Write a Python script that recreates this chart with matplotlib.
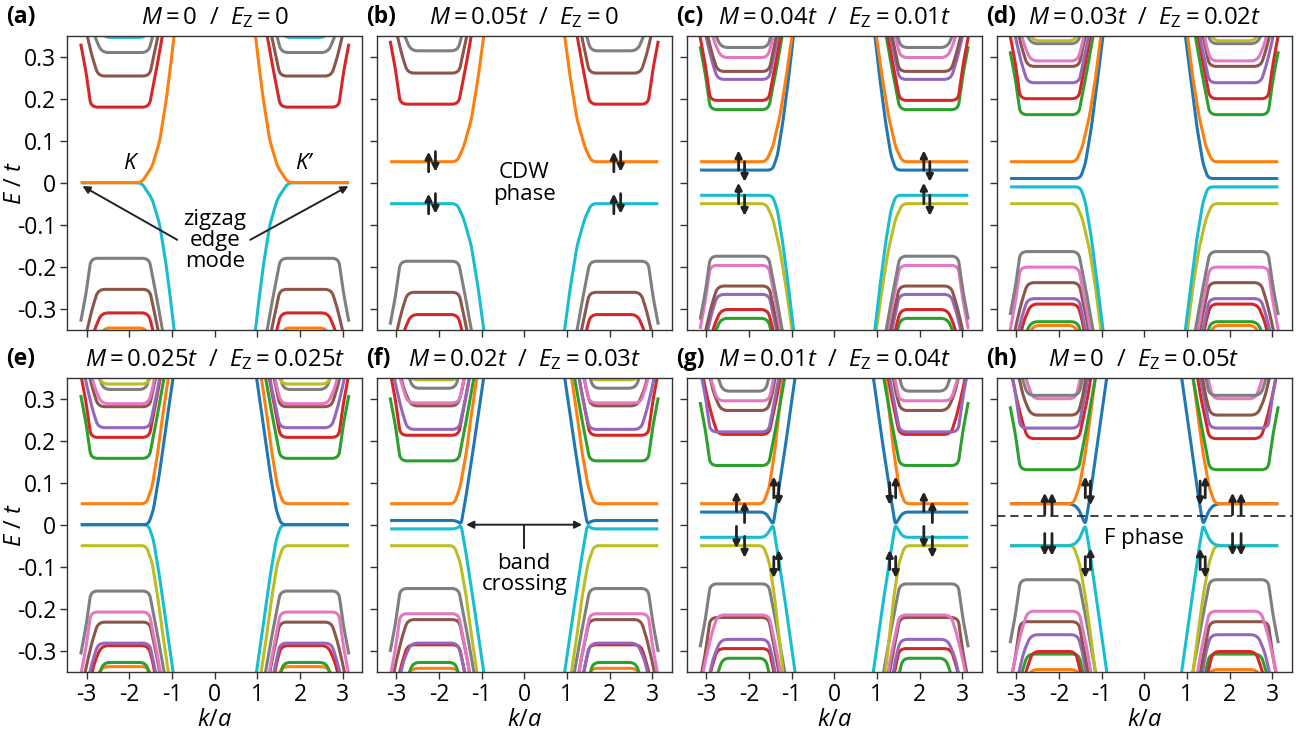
import numpy as np
import matplotlib
matplotlib.use('Agg')
import matplotlib.pyplot as plt
from matplotlib.path import Path
from matplotlib.patches import PathPatch

plt.rcParams['font.family'] = ['Open Sans', 'DejaVu Sans']
plt.rcParams['mathtext.fontset'] = 'custom'
plt.rcParams['mathtext.rm'] = 'Open Sans'
plt.rcParams['mathtext.it'] = 'Open Sans:italic'
plt.rcParams['mathtext.bf'] = 'Open Sans:bold'
plt.rcParams['axes.unicode_minus'] = False

TAB = {'blue': '#1f77b4', 'orange': '#ff7f0e', 'green': '#2ca02c', 'red': '#d62728',
       'purple': '#9467bd', 'brown': '#8c564b', 'pink': '#e377c2', 'gray': '#7f7f7f',
       'olive': '#bcbd22', 'cyan': '#17becf'}
PI = np.pi

# bulk subband shapes in the left valley: (k, height above the plateau)
PROFILE_1 = [(-PI, 0.151), (-3.02, 0.085), (-2.90, 0.0), (-1.54, 0.0), (-1.35, 0.10), (-1.00, 0.30)]
PROFILE_2 = [(-PI, 0.17), (-2.99, 0.096), (-2.87, 0.045), (-2.73, 0.0), (-1.53, 0.0),
             (-1.33, 0.096), (-1.05, 0.27)]
PROFILE_3 = [(-PI, 0.22), (-2.96, 0.10), (-2.82, 0.04), (-2.65, 0.0), (-1.56, 0.0),
             (-1.45, 0.04), (-1.28, 0.14), (-1.05, 0.30)]
PROFILE_4 = [(-PI, 0.26), (-2.95, 0.14), (-2.79, 0.054), (-2.61, 0.0), (-1.61, 0.0),
             (-1.49, 0.05), (-1.30, 0.16), (-1.08, 0.30)]
PROFILES = {1: PROFILE_1, 2: PROFILE_2, 3: PROFILE_3, 4: PROFILE_4}

# bulk plateaus, left valley: (E/t, subband, colour)
BULK_A = [(0.180, 1, 'red'), (0.254, 2, 'brown'), (0.310, 3, 'gray'), (0.346, 4, 'cyan'),
          (-0.180, 1, 'gray'), (-0.254, 2, 'brown'), (-0.310, 3, 'red'), (-0.346, 4, 'orange')]
BULK_B = [(0.187, 1, 'red'), (0.261, 2, 'brown'), (0.314, 3, 'gray'),
          (-0.187, 1, 'gray'), (-0.261, 2, 'brown'), (-0.314, 3, 'red')]
BULK_C = [(0.174, 1, 'green'), (0.196, 1, 'red'), (0.246, 2, 'purple'), (0.265, 2, 'brown'),
          (0.298, 3, 'pink'), (0.322, 3, 'gray'),
          (-0.175, 1, 'gray'), (-0.197, 1, 'pink'), (-0.246, 2, 'brown'), (-0.266, 2, 'purple'),
          (-0.302, 3, 'red'), (-0.323, 3, 'green')]
BULK_D = [(0.162, 1, 'green'), (0.200, 1, 'red'), (0.238, 2, 'purple'), (0.277, 2, 'brown'),
          (0.290, 3, 'pink'), (0.331, 3, 'gray'), (0.338, 4, 'olive'),
          (-0.164, 1, 'gray'), (-0.201, 1, 'pink'), (-0.238, 2, 'brown'), (-0.276, 2, 'purple'),
          (-0.289, 3, 'red'), (-0.331, 3, 'green'), (-0.340, 4, 'orange')]
BULK_E = [(0.158, 1, 'green'), (0.208, 1, 'red'), (0.231, 2, 'purple'), (0.281, 2, 'brown'),
          (0.288, 3, 'pink'), (0.322, 4, 'gray'), (0.335, 3, 'olive'),
          (-0.158, 1, 'gray'), (-0.208, 1, 'pink'), (-0.232, 2, 'brown'), (-0.282, 2, 'purple'),
          (-0.288, 3, 'red'), (-0.328, 4, 'green'), (-0.338, 3, 'orange')]
BULK_F = [(0.152, 1, 'green'), (0.213, 1, 'red'), (0.227, 2, 'purple'), (0.283, 3, 'brown'),
          (0.290, 2, 'pink'), (0.325, 4, 'gray'), (0.345, 3, 'olive'),
          (-0.152, 1, 'gray'), (-0.212, 1, 'pink'), (-0.226, 2, 'brown'), (-0.282, 3, 'purple'),
          (-0.286, 2, 'red'), (-0.328, 4, 'green'), (-0.342, 3, 'orange')]
BULK_G = [(0.141, 1, 'green'), (0.215, 2, 'red'), (0.221, 1, 'purple'), (0.272, 3, 'brown'),
          (0.295, 2, 'pink'), (0.318, 4, 'gray'),
          (-0.141, 1, 'gray'), (-0.215, 2, 'pink'), (-0.221, 1, 'brown'), (-0.273, 3, 'purple'),
          (-0.295, 2, 'red'), (-0.318, 4, 'green')]
BULK_H = [(0.131, 1, 'green'), (0.205, 2, 'red'), (0.230, 1, 'purple'), (0.261, 3, 'brown'),
          (0.300, 4, 'pink'), (0.308, 2, 'gray'),
          (-0.131, 1, 'gray'), (-0.206, 2, 'pink'), (-0.231, 1, 'brown'), (-0.262, 3, 'purple'),
          (-0.302, 4, 'red'), (-0.308, 2, 'green'), (-0.345, 3, 'orange')]

# edge-state bands, left valley: (level, colour, colour of E -> -E partner, vertices)
EDGE_A = [(0.0, 'orange', 'cyan',
           [(-PI, 0.0), (-1.72, 0.0), (-1.47, 0.038), (-1.29, 0.10), (-1.14, 0.196), (-1.04, 0.275), (-0.93, 0.37)])]
EDGE_B = [(0.05, 'orange', 'cyan',
           [(-PI, 0.05), (-1.58, 0.05), (-1.42, 0.085), (-1.24, 0.15), (-1.08, 0.25), (-0.92, 0.37)])]
EDGE_C = [(0.03, 'blue', 'cyan',
           [(-PI, 0.03), (-1.45, 0.03), (-1.33, 0.065), (-1.21, 0.14), (-1.08, 0.24), (-0.93, 0.37)]),
          (0.05, 'orange', 'olive',
           [(-PI, 0.05), (-1.60, 0.05), (-1.44, 0.085), (-1.27, 0.16), (-1.12, 0.255), (-0.96, 0.37)])]
EDGE_D = [(0.01, 'blue', 'cyan',
           [(-PI, 0.01), (-1.50, 0.01), (-1.38, 0.045), (-1.24, 0.13), (-1.10, 0.24), (-0.94, 0.37)]),
          (0.05, 'orange', 'olive',
           [(-PI, 0.05), (-1.60, 0.05), (-1.45, 0.085), (-1.28, 0.16), (-1.14, 0.25), (-0.99, 0.37)])]
EDGE_E = [(0.0, 'blue', 'cyan',
           [(-PI, 0.0), (-1.56, 0.0), (-1.44, 0.035), (-1.30, 0.12), (-1.14, 0.235), (-0.95, 0.37)]),
          (0.05, 'orange', 'olive',
           [(-PI, 0.05), (-1.61, 0.05), (-1.47, 0.09), (-1.34, 0.17), (-1.22, 0.26), (-1.06, 0.37)])]
EDGE_F = [(0.01, 'blue', 'cyan',
           [(-PI, 0.01), (-1.58, 0.01), (-1.48, 0.0), (-1.36, 0.07), (-1.18, 0.19), (-0.92, 0.37)]),
          (0.05, 'orange', 'olive',
           [(-PI, 0.05), (-1.64, 0.05), (-1.50, 0.09), (-1.36, 0.17), (-1.24, 0.26), (-1.08, 0.37)])]
EDGE_G = [(0.03, 'blue', 'cyan',
           [(-PI, 0.03), (-1.62, 0.03), (-1.50, 0.012), (-1.43, 0.0), (-1.32, 0.07), (-1.14, 0.19), (-0.89, 0.37)]),
          (0.05, 'orange', 'olive',
           [(-PI, 0.05), (-1.66, 0.05), (-1.52, 0.09), (-1.40, 0.17), (-1.30, 0.26), (-1.18, 0.37)])]
EDGE_H = [(0.049, 'blue', 'cyan',
           [(-PI, 0.05), (-1.70, 0.05), (-1.55, 0.04), (-1.46, 0.02), (-1.38, 0.0), (-1.28, 0.06), (-1.10, 0.19), (-0.85, 0.37)]),
          (0.05, 'orange', 'olive',
           [(-PI, 0.05), (-1.66, 0.05), (-1.52, 0.09), (-1.38, 0.17), (-1.26, 0.26), (-1.12, 0.37)])]

# spin arrows: (k, E tail, E head)
ARROWS_B = [(-2.24, 0.026, 0.074), (-2.08, 0.074, 0.026), (-2.24, -0.074, -0.026), (-2.08, -0.026, -0.074),
            (2.10, 0.026, 0.074), (2.26, 0.074, 0.026), (2.10, -0.074, -0.026), (2.26, -0.026, -0.074)]
ARROWS_C = [(-2.24, 0.03, 0.077), (-2.10, 0.05, 0.002), (-2.24, -0.05, 0.0), (-2.10, -0.03, -0.079),
            (2.10, 0.03, 0.077), (2.24, 0.05, 0.002), (2.10, -0.05, 0.0), (2.24, -0.03, -0.079)]
ARROWS_G = [(-2.29, 0.032, 0.079), (-2.10, 0.005, 0.056), (-2.29, -0.004, -0.056), (-2.10, -0.028, -0.079),
            (2.10, 0.032, 0.079), (2.30, 0.005, 0.056), (2.10, -0.004, -0.056), (2.30, -0.028, -0.079),
            (-1.415, 0.064, 0.115), (-1.30, 0.10, 0.047), (-1.415, -0.076, -0.127), (-1.30, -0.107, -0.06),
            (1.44, 0.064, 0.115), (1.30, 0.10, 0.047), (1.44, -0.076, -0.127), (1.30, -0.107, -0.06)]
ARROWS_H = [(-2.33, 0.024, 0.076), (-2.16, 0.024, 0.076), (-2.33, -0.021, -0.074), (-2.16, -0.021, -0.074),
            (2.07, 0.024, 0.076), (2.27, 0.024, 0.076), (2.07, -0.021, -0.074), (2.27, -0.021, -0.074),
            (-1.38, 0.064, 0.115), (-1.26, 0.104, 0.046), (-1.38, -0.076, -0.127), (-1.26, -0.107, -0.056),
            (1.43, 0.064, 0.115), (1.31, 0.104, 0.046), (1.43, -0.076, -0.127), (1.31, -0.107, -0.056)]

TITLES = [r'$M = 0$  /  $E_\mathrm{Z} = 0$', r'$M = 0.05t$  /  $E_\mathrm{Z} = 0$',
          r'$M = 0.04t$  /  $E_\mathrm{Z} = 0.01t$', r'$M = 0.03t$  /  $E_\mathrm{Z} = 0.02t$',
          r'$M = 0.025t$  /  $E_\mathrm{Z} = 0.025t$', r'$M = 0.02t$  /  $E_\mathrm{Z} = 0.03t$',
          r'$M = 0.01t$  /  $E_\mathrm{Z} = 0.04t$', r'$M = 0$  /  $E_\mathrm{Z} = 0.05t$']
LETTERS = ['(a)', '(b)', '(c)', '(d)', '(e)', '(f)', '(g)', '(h)']
BULK = [BULK_A, BULK_B, BULK_C, BULK_D, BULK_E, BULK_F, BULK_G, BULK_H]
EDGE = [EDGE_A, EDGE_B, EDGE_C, EDGE_D, EDGE_E, EDGE_F, EDGE_G, EDGE_H]
ARROWS = [[], ARROWS_B, ARROWS_C, [], [], [], ARROWS_G, ARROWS_H]

XLIM = 1.1 * PI
YLIM = 0.35


def rounded(pts, r):
    # polyline with rounded corners (quadratic Bezier at every inner vertex)
    pts = np.asarray(pts, float)
    sc = np.array([1 / (2 * XLIM), 1 / (2 * YLIM)])
    verts = [pts[0]]
    codes = [Path.MOVETO]
    for i in range(1, len(pts) - 1):
        p0, p1, p2 = pts[i - 1], pts[i], pts[i + 1]
        d1 = np.hypot(*((p1 - p0) * sc))
        d2 = np.hypot(*((p2 - p1) * sc))
        a = p1 + (p0 - p1) * min(r, 0.5 * d1) / d1
        b = p1 + (p2 - p1) * min(r, 0.5 * d2) / d2
        verts += [a, p1, b]
        codes += [Path.LINETO, Path.CURVE3, Path.CURVE3]
    verts.append(pts[-1])
    codes.append(Path.LINETO)
    return Path(verts, codes)


def draw_band(ax, pts, color, z, r):
    for sgn in (1, -1):
        p = [(sgn * k, e) for k, e in pts]
        ax.add_patch(PathPatch(rounded(p, r), fill=False, edgecolor=TAB[color], lw=2.2,
                               capstyle='butt', joinstyle='round', zorder=z))


fig = plt.figure(figsize=(13.03, 7.33), dpi=100)
W, H = 1303, 733
lefts = [67.3, 376.7, 686.7, 996.7]
tops = [35.7, 377.7]
axw, axh = 295, 294

axes = []
for i in range(8):
    r, c = divmod(i, 4)
    ax = fig.add_axes([lefts[c] / W, 1 - (tops[r] + axh) / H, axw / W, axh / H])
    axes.append(ax)

    bands = []
    for e0, n, col in BULK[i]:
        sgn = 1 if e0 > 0 else -1
        bands.append((e0, col, [(k, e0 + sgn * h) for k, h in PROFILES[n]], 0.022))
    for lev, cu, cd, pts in EDGE[i]:
        bands.append((lev + 1e-4, cu, pts, 0.016))
        bands.append((-lev - 1e-4, cd, [(k, -e) for k, e in pts], 0.016))
    bands.sort(key=lambda b: b[0])
    for z, (e0, col, pts, rr) in enumerate(bands):
        draw_band(ax, pts, col, 2 + z * 0.01, rr)

    for k, e1, e2 in ARROWS[i]:
        ax.annotate('', xy=(k, e2), xytext=(k, e1),
                    arrowprops=dict(arrowstyle='-|>', lw=2.0, color='#222222',
                                    mutation_scale=10, shrinkA=0, shrinkB=0), zorder=5)

    ax.set_xlim(-XLIM, XLIM)
    ax.set_ylim(-YLIM, YLIM)
    ax.set_xticks([-3, -2, -1, 0, 1, 2, 3])
    ax.set_yticks([-0.3, -0.2, -0.1, 0, 0.1, 0.2, 0.3])
    ax.set_yticklabels(['-0.3', '-0.2', '-0.1', '0', '0.1', '0.2', '0.3'])
    ax.tick_params(direction='out', length=5, width=1.0, color='#333333', labelsize=16.5, pad=3)
    for s in ax.spines.values():
        s.set_color('#333333')
        s.set_linewidth(1.0)
    if c != 0:
        ax.tick_params(labelleft=False)
    else:
        ax.set_ylabel(r'$E$ / $t$', fontsize=17)
        ax.yaxis.set_label_coords(-0.135, 0.5)
    if r == 0:
        ax.tick_params(labelbottom=False)
    else:
        ax.set_xlabel(r'$k/a$', fontsize=17)
        ax.xaxis.set_label_coords(0.5, -0.125)
    ax.text(0.5, 1 + 18.5 / axh, TITLES[i], transform=ax.transAxes, ha='center', va='center',
            fontsize=17.2)
    lx = 6 if c == 0 else lefts[c] - 11
    fig.text(lx / W, 1 - (tops[r] - 18.5) / H, LETTERS[i], ha='left', va='center',
             fontsize=16.5, fontweight='bold')

# annotations
ax = axes[0]
ax.text(-2.0, 0.045, 'K', style='italic', fontsize=16, ha='center', va='center')
ax.text(2.07, 0.045, 'K’', style='italic', fontsize=16, ha='center', va='center')
ax.text(0, -0.138, 'zigzag\nedge\nmode', fontsize=16, ha='center', va='center', linespacing=1.0)
for tail, head in [((-0.88, -0.136), (-3.10, -0.008)), ((0.83, -0.136), (3.13, -0.008))]:
    ax.annotate('', xy=head, xytext=tail,
                arrowprops=dict(arrowstyle='-|>', lw=1.4, color='#222222', mutation_scale=11,
                                shrinkA=0, shrinkB=0))

axes[1].text(0, -0.002, 'CDW\nphase', fontsize=16, ha='center', va='center', linespacing=1.05)

ax = axes[5]
ax.annotate('', xy=(1.36, 0), xytext=(-1.36, 0),
            arrowprops=dict(arrowstyle='<|-|>', lw=1.4, color='#222222', mutation_scale=11,
                            shrinkA=0, shrinkB=0), zorder=6)
ax.plot([0, 0], [0, -0.055], color='#222222', lw=1.4, zorder=6)
ax.text(0, -0.117, 'band\ncrossing', fontsize=16, ha='center', va='center', linespacing=1.0)

ax = axes[7]
ax.axhline(0.021, color='#222222', lw=1.2, ls=(0, (5, 3)), zorder=6)
ax.text(0, -0.032, 'F phase', fontsize=16, ha='center', va='center')

fig.savefig('out.png', dpi=100)
